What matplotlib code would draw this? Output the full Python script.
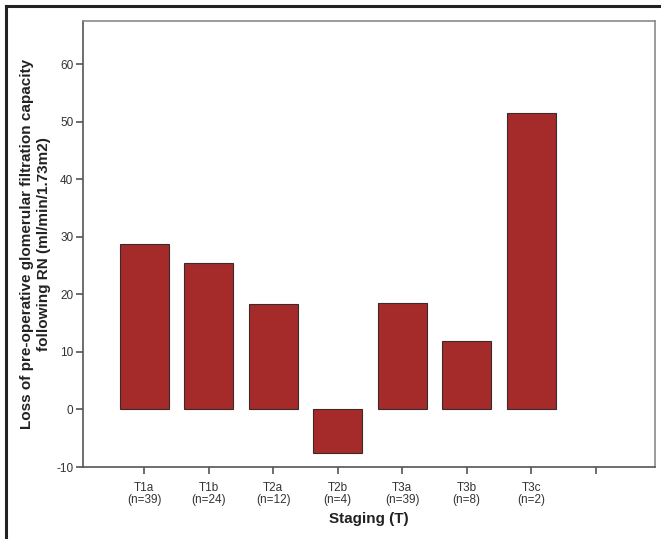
import matplotlib
matplotlib.use("Agg")
import matplotlib.pyplot as plt
from matplotlib.lines import Line2D

categories = ["T1a", "T1b", "T2a", "T2b", "T3a", "T3b", "T3c", ""]
counts = ["(n=39)", "(n=24)", "(n=12)", "(n=4)", "(n=39)", "(n=8)", "(n=2)", ""]
values = [28.7, 25.4, 18.3, -7.5, 18.5, 11.9, 51.6]
yticks = [-10, 0, 10, 20, 30, 40, 50, 60]

plt.rcParams['font.family'] = ['Liberation Sans', 'DejaVu Sans']

fig = plt.figure(figsize=(6.61, 5.39), dpi=100)
ax = fig.add_axes([83/661, 1-467/539, (655-83)/661, (467-21)/539])

pos = list(range(len(categories)))
ax.bar(pos[:len(values)], values, width=0.76, color="#A52A2A",
       edgecolor="#3a2a2a", linewidth=0.8, zorder=3)

ax.set_xlim(-0.95, 7.92)
ax.set_ylim(-10, 67.5)
ax.set_yticks(yticks)
ax.set_yticklabels([str(v) for v in yticks], fontsize=8.5, color="#333333")
ax.set_xticks(pos)
ax.set_xticklabels([f"{c}\n{n}" if c else "" for c, n in zip(categories, counts)],
                   fontsize=8.5, color="#333333", linespacing=1.0)

for s in ["left", "bottom"]:
    ax.spines[s].set_color("#555555")
    ax.spines[s].set_linewidth(1.2)
for s in ["top", "right"]:
    ax.spines[s].set_color("#8a8a8a")
    ax.spines[s].set_linewidth(1.2)
ax.tick_params(axis="both", direction="out", length=5, width=1.2, color="#555555", pad=2)
ax.tick_params(axis="x", pad=6)

ax.set_ylabel("Loss of pre-operative glomerular filtration capacity\nfollowing RN (ml/min/1.73m2)",
              fontsize=11, fontweight="bold", color="#222222", linespacing=1.2, labelpad=4)
ax.set_xlabel("Staging (T)", fontsize=11, fontweight="bold", color="#222222", labelpad=4)

# outer frame lines (top and left)
fig.add_artist(Line2D([6/661, 1.0], [1-6/539, 1-6/539], transform=fig.transFigure,
                      color="#222222", linewidth=2.2))
fig.add_artist(Line2D([6/661, 6/661], [0, 1-6/539], transform=fig.transFigure,
                      color="#222222", linewidth=2.2))

fig.savefig("out.png", dpi=100, facecolor="white")
